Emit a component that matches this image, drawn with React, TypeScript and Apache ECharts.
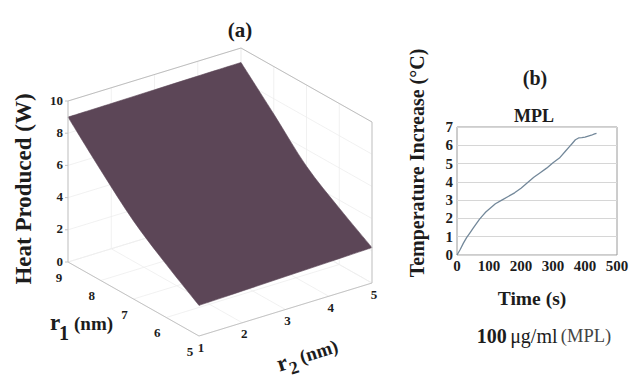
import React, { useEffect, useRef } from "react";
import * as echarts from "echarts";

// ---------- data: (a) heat produced surface ----------
const r1Values = [5, 6, 7, 8, 9]; // nm
const r2Values = [1, 2, 3, 4, 5]; // nm
// heatValues[i][j] : r1 = r1Values[i], r2 = r2Values[j]  (W)
const heatValues = [
  [1.9, 1.97, 2.05, 2.12, 2.2],
  [3.3, 3.35, 3.4, 3.45, 3.5],
  [4.85, 4.88, 4.9, 4.93, 4.95],
  [6.85, 6.9, 6.95, 7.0, 7.05],
  [9.0, 9.02, 9.05, 9.08, 9.1],
];
const zTicks = [0, 2, 4, 6, 8, 10];
const r1Ticks = [9, 8, 7, 6, 5];
const r2Ticks = [1, 2, 3, 4, 5];

// ---------- data: (b) temperature increase ----------
const timeValues = [0, 10, 20, 30, 40, 50, 60, 70, 80, 90, 100, 110, 120, 140, 160, 180, 200, 220, 240, 260, 280, 300, 320, 340, 350, 360, 370, 380, 390, 400, 410, 420, 430, 436];
const tempValues = [0, 0.3, 0.65, 0.95, 1.2, 1.45, 1.7, 1.95, 2.15, 2.35, 2.5, 2.65, 2.8, 3.0, 3.2, 3.4, 3.65, 3.95, 4.25, 4.5, 4.75, 5.05, 5.3, 5.7, 5.9, 6.1, 6.3, 6.4, 6.42, 6.45, 6.5, 6.55, 6.62, 6.65];
const timeTicks = { min: 0, max: 500, step: 100 };
const tempTicks = { min: 0, max: 7, step: 1 };

const SERIF = '"Liberation Serif", "Times New Roman", serif';
const INK = "#1c1c1c";

// oblique projection of (r1, r2, z) onto the hidden plane axes of grid 0
const R1_MAX = 9;
const R2_MIN = 1;
const U_R1 = [32.75, -18.5];
const U_R2 = [43.25, 13.25];
const U_Z = 16.1;
const Y0 = 74;
function project(r1: number, r2: number, z: number): number[] {
  const a = R1_MAX - r1;
  const b = r2 - R2_MIN;
  return [a * U_R1[0] + b * U_R2[0], Y0 + a * U_R1[1] + b * U_R2[1] + z * U_Z];
}

function tx(text: string, x: number, y: number, font: string, align = "center", vAlign = "middle", fill = INK) {
  return {
    type: "text",
    x,
    y,
    style: { text, fill, font, align, verticalAlign: vAlign, textAlign: align, textVerticalAlign: vAlign },
  };
}

// smooth (Catmull-Rom) path segments through a list of pixel points
function smoothSegs(pts: number[][]): string {
  let d = "";
  for (let i = 0; i < pts.length - 1; i++) {
    const p0 = pts[Math.max(0, i - 1)];
    const p1 = pts[i];
    const p2 = pts[i + 1];
    const p3 = pts[Math.min(pts.length - 1, i + 2)];
    const c1x = p1[0] + (p2[0] - p0[0]) / 6;
    const c1y = p1[1] + (p2[1] - p0[1]) / 6;
    const c2x = p2[0] - (p3[0] - p1[0]) / 6;
    const c2y = p2[1] - (p3[1] - p1[1]) / 6;
    d += ` C ${c1x.toFixed(2)} ${c1y.toFixed(2)} ${c2x.toFixed(2)} ${c2y.toFixed(2)} ${p2[0].toFixed(2)} ${p2[1].toFixed(2)}`;
  }
  return d;
}

export default function App() {
  const ref = useRef<HTMLDivElement>(null);

  useEffect(() => {
    if (!ref.current) return;
    const chart = echarts.init(ref.current, undefined, { renderer: "svg" });

    const r1Min = r1Values[0];
    const r1Max = r1Values[r1Values.length - 1];
    const r2Min = r2Values[0];
    const r2Max = r2Values[r2Values.length - 1];
    const zMax = zTicks[zTicks.length - 1];
    const zMin = zTicks[0];

    const render3D = (params: any, api: any) => {
      const P = (r1: number, r2: number, z: number) => api.coord(project(r1, r2, z));
      const ln = (a: number[], b: number[], stroke: string, w: number) => ({
        type: "line",
        shape: { x1: a[0], y1: a[1], x2: b[0], y2: b[1] },
        style: { stroke, lineWidth: w },
      });
      const children: any[] = [];
      const faint = "#eeeeee";
      // back walls & floor grid
      zTicks.forEach((z) => {
        children.push(ln(P(r1Max, r2Min, z), P(r1Max, r2Max, z), faint, 0.8));
        children.push(ln(P(r1Max, r2Max, z), P(r1Min, r2Max, z), faint, 0.8));
      });
      r1Ticks.forEach((r) => {
        children.push(ln(P(r, r2Min, zMin), P(r, r2Max, zMin), faint, 0.8));
        children.push(ln(P(r, r2Max, zMin), P(r, r2Max, zMax), faint, 0.8));
      });
      r2Ticks.forEach((r) => {
        children.push(ln(P(r1Max, r, zMin), P(r1Min, r, zMin), faint, 0.8));
        children.push(ln(P(r1Max, r, zMin), P(r1Max, r, zMax), faint, 0.8));
      });
      // box top edges
      const edge = "#b8b8b8";
      children.push(ln(P(r1Max, r2Min, zMax), P(r1Max, r2Max, zMax), edge, 0.9));
      children.push(ln(P(r1Max, r2Max, zMax), P(r1Min, r2Max, zMax), edge, 0.9));
      // surface outline: four smooth edges
      const nI = r1Values.length;
      const nJ = r2Values.length;
      const e1: number[][] = [];
      for (let i = nI - 1; i >= 0; i--) e1.push(P(r1Values[i], r2Values[0], heatValues[i][0]));
      const e2: number[][] = [];
      for (let j = 0; j < nJ; j++) e2.push(P(r1Values[0], r2Values[j], heatValues[0][j]));
      const e3: number[][] = [];
      for (let i = 0; i < nI; i++) e3.push(P(r1Values[i], r2Values[nJ - 1], heatValues[i][nJ - 1]));
      const e4: number[][] = [];
      for (let j = nJ - 1; j >= 0; j--) e4.push(P(r1Values[nI - 1], r2Values[j], heatValues[nI - 1][j]));
      const d = `M ${e1[0][0].toFixed(2)} ${e1[0][1].toFixed(2)}` + smoothSegs(e1) + smoothSegs(e2) + smoothSegs(e3) + smoothSegs(e4) + " Z";
      children.push({
        type: "path",
        shape: { pathData: d },
        style: { fill: "#5c4657", stroke: "#5c4657", lineWidth: 0.6 },
      });
      // front axes
      const ax = "#c4c4c4";
      children.push(ln(P(r1Max, r2Min, zMin), P(r1Max, r2Min, zMax), ax, 1));
      children.push(ln(P(r1Min, r2Max, zMin), P(r1Min, r2Max, zMax), ax, 1));
      children.push(ln(P(r1Max, r2Min, zMin), P(r1Min, r2Min, zMin), ax, 1));
      children.push(ln(P(r1Min, r2Min, zMin), P(r1Min, r2Max, zMin), ax, 1));
      const tickFont = `bold 13px ${SERIF}`;
      zTicks.forEach((z) => {
        const p = P(r1Max, r2Min, z);
        children.push(ln([p[0] - 3, p[1]], p, ax, 1));
        children.push(tx(String(z), p[0] - 5, p[1] - 1, tickFont, "right", "middle"));
      });
      r1Ticks.forEach((r) => {
        const p = P(r, r2Min, zMin);
        children.push(tx(String(r), p[0] - 9, p[1] + 15, tickFont));
      });
      r2Ticks.forEach((r) => {
        const p = P(r1Min, r, zMin);
        children.push(tx(String(r), p[0] + 2, p[1] + 11, tickFont));
      });
      return { type: "group", children };
    };

    chart.setOption({
      animation: false,
      backgroundColor: "#ffffff",
      grid: [
        { left: 68, top: 48, width: 304, height: 288, show: false, containLabel: false, outerBoundsMode: "none" },
        {
          left: 457, top: 127, width: 160, height: 128, show: true,
          borderColor: "#9a9a9a", borderWidth: 1, backgroundColor: "transparent",
          containLabel: false, outerBoundsMode: "none",
        },
      ],
      xAxis: [
        { gridIndex: 0, type: "value", min: 0, max: 304, show: false },
        {
          gridIndex: 1, type: "value", min: timeTicks.min, max: timeTicks.max, interval: timeTicks.step,
          axisLine: { show: false }, axisTick: { show: false }, splitLine: { show: false },
          axisLabel: { color: INK, fontFamily: SERIF, fontWeight: "bold", fontSize: 15, margin: 3 },
        },
      ],
      yAxis: [
        { gridIndex: 0, type: "value", min: 0, max: 288, show: false },
        {
          gridIndex: 1, type: "value", min: tempTicks.min, max: tempTicks.max, interval: tempTicks.step,
          axisLine: { show: false }, axisTick: { show: false },
          splitLine: { show: true, lineStyle: { color: "#d6d6d6", width: 1 } },
          axisLabel: { color: INK, fontFamily: SERIF, fontWeight: "bold", fontSize: 15, margin: 4 },
        },
      ],
      series: [
        {
          type: "custom",
          xAxisIndex: 0,
          yAxisIndex: 0,
          clip: false,
          silent: true,
          data: [[0, 0]],
          renderItem: render3D,
        },
        {
          type: "line",
          xAxisIndex: 1,
          yAxisIndex: 1,
          data: timeValues.map((t, i) => [t, tempValues[i]]),
          showSymbol: false,
          lineStyle: { color: "#73889a", width: 1.3 },
          silent: true,
        },
      ],
      graphic: [
        tx("(a)", 240, 30, `bold 21px ${SERIF}`),
        { ...tx("Heat Produced (W)", 23, 189, `bold 23px ${SERIF}`), rotation: Math.PI / 2 },
        tx("r", 55, 322, `bold 23px ${SERIF}`),
        tx("1", 64, 333, `bold 20px ${SERIF}`),
        tx("(nm)", 74, 323, `bold 19px ${SERIF}`, "left"),
        {
          type: "group",
          x: 282,
          y: 363,
          rotation: 0.31,
          children: [
            tx("r", 0, 0, `bold 23px ${SERIF}`),
            tx("2", 10, 8, `bold 18px ${SERIF}`),
            tx("(nm)", 19, 0, `bold 19px ${SERIF}`, "left"),
          ],
        },
        tx("(b)", 535, 78, `bold 20px ${SERIF}`),
        tx("MPL", 534, 116, `bold 18px ${SERIF}`),
        { ...tx("Temperature Increase (°C)", 417, 163, `bold 20px ${SERIF}`), rotation: Math.PI / 2 },
        tx("Time (s)", 532, 298, `bold 19.5px ${SERIF}`),
        {
          type: "text",
          x: 544,
          y: 336,
          style: {
            text: "{b|100} {n|μg/ml} {l|(MPL)}",
            align: "center",
            verticalAlign: "middle",
            textAlign: "center",
            textVerticalAlign: "middle",
            rich: {
              b: { font: `bold 20px ${SERIF}`, fill: INK, color: INK },
              n: { font: `20px ${SERIF}`, fill: INK, color: INK },
              l: { font: `18.5px ${SERIF}`, fill: "#444", color: "#444" },
            },
          },
        },
      ],
    });

    return () => chart.dispose();
  }, []);

  return (
    <div
      ref={ref}
      style={{ position: "fixed", left: 0, top: 0, width: 631, height: 380, background: "#fff" }}
    />
  );
}
